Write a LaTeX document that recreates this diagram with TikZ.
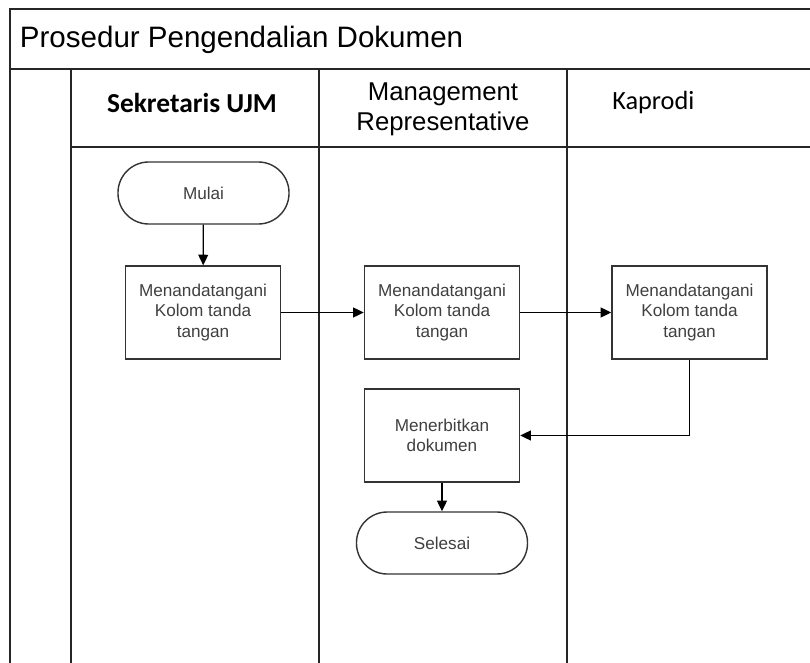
\documentclass[tikz,border=0pt]{standalone}
\usepackage{fontspec}
\setmainfont{Liberation Sans}
\newfontfamily\calibri{Carlito}
\usetikzlibrary{arrows.meta}

\tikzset{
  garis/.style={line width=1.4pt, black!85},
  proses/.style={draw=black!80, line width=1pt, fill=white, inner sep=0pt,
    minimum width=3.875cm, minimum height=2.325cm, align=center,
    font=\fontsize{12.2}{14.3}\selectfont, text=black!75},
  terminal/.style={proses, rounded corners=0.77cm,
    minimum width=4.275cm, minimum height=1.55cm},
  alur/.style={-{Triangle[length=7.5pt,width=7pt]}, line width=0.9pt}
}

\begin{document}
\begin{tikzpicture}[x=0.025cm, y=-0.025cm]
  \useasboundingbox (0,0) rectangle (810,663);

  % Kerangka swimlane
  \begin{scope}
    \clip (0,0) rectangle (810,663);
    \draw[garis] (820,9) -- (10,9) -- (10,670);
    \draw[garis] (10,69) -- (820,69);
    \draw[garis] (71,147) -- (820,147);
    \foreach \x in {71,319,567}
      \draw[garis] (\x,69) -- (\x,670);
  \end{scope}

  % Judul dan kepala lajur
  \node[anchor=base west, font=\fontsize{21}{24}\selectfont] (judul) at (15,48) {Prosedur Pengendalian Dokumen};
  \node[anchor=base, font=\calibri\bfseries\fontsize{19.5}{22}\selectfont] (sekretaris) at (192,113) {Sekretaris UJM};
  \node[align=center, inner sep=0pt, font=\fontsize{18.3}{21.3}\selectfont] (mr) at (443,109) {Management\\Representative};
  \node[anchor=base west, inner sep=0pt, font=\calibri\fontsize{18.7}{22}\selectfont] (kaprodi) at (612,110) {Kaprodi};

  % Langkah
  \node[terminal] (mulai) at (203.5,193) {Mulai};
  \node[proses] (ttd1) at (203,312.5) {Menandatangani\\Kolom tanda\\tangan};
  \node[proses] (ttd2) at (442,312.5) {Menandatangani\\Kolom tanda\\tangan};
  \node[proses] (ttd3) at (689.5,312.5) {Menandatangani\\Kolom tanda\\tangan};
  \node[proses] (terbit) at (442,435.5) {Menerbitkan\\dokumen};
  \node[terminal] (selesai) at (442,543) {Selesai};

  \draw[alur] (mulai) -- (ttd1);
  \draw[alur] (ttd1) -- (ttd2);
  \draw[alur] (ttd2) -- (ttd3);
  \draw[alur] (ttd3) |- (terbit);
  \draw[alur] (terbit) -- (selesai);
\end{tikzpicture}
\end{document}
